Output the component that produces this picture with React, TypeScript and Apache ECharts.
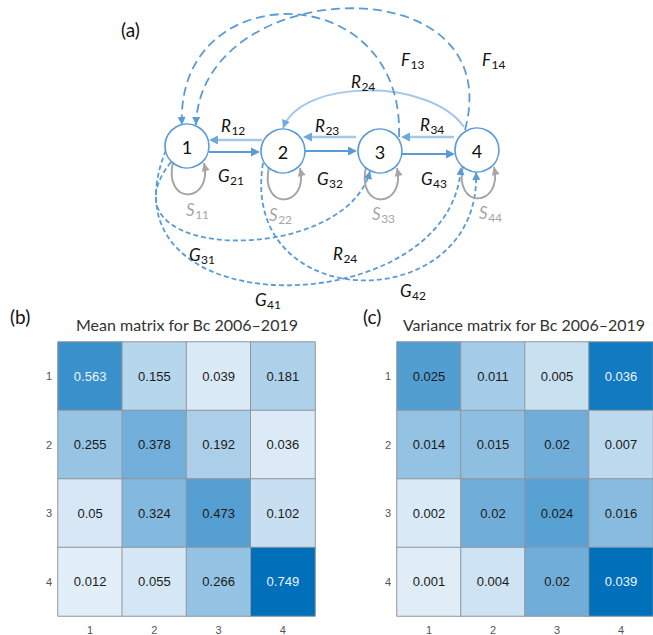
import React, { useEffect, useRef } from "react";
import * as echarts from "echarts";

// ---- matrix data ----
const matrixTicks = ["1", "2", "3", "4"];
const stateNames = ["1", "2", "3", "4"];
const meanTitle = "Mean matrix for Bc 2006–2019";
const varianceTitle = "Variance matrix for Bc 2006–2019";
const meanRow1 = [0.563, 0.155, 0.039, 0.181];
const meanRow2 = [0.255, 0.378, 0.192, 0.036];
const meanRow3 = [0.05, 0.324, 0.473, 0.102];
const meanRow4 = [0.012, 0.055, 0.266, 0.749];
const varRow1 = [0.025, 0.011, 0.005, 0.036];
const varRow2 = [0.014, 0.015, 0.02, 0.007];
const varRow3 = [0.002, 0.02, 0.024, 0.016];
const varRow4 = [0.001, 0.004, 0.02, 0.039];
const meanValues = [meanRow1, meanRow2, meanRow3, meanRow4];
const varianceValues = [varRow1, varRow2, varRow3, varRow4];

// ---- styling ----
const BLUE = "#5B9BD5";
const LIGHT_BLUE = "#A4C8E9";
const LIGHT_HEAD = "#6FA8DC";
const GREY = "#A6A6A6";
const FAMILY = "Lato, 'Open Sans', sans-serif";
const CELL_FONT = "'Liberation Sans', Arial, sans-serif";
const CELL_LOW = "#E6F0F9";
const CELL_HIGH = "#0070BB";

// transition diagram layout
const nodeCenters: [number, number][] = [
  [187, 146],
  [283, 151],
  [380, 151],
  [477, 150],
];
const NODE_R = 22;

type Pt = [number, number];

function arrowHead(tip: Pt, from: Pt, color: string, len = 8, half = 4) {
  const dx = tip[0] - from[0];
  const dy = tip[1] - from[1];
  const d = Math.hypot(dx, dy) || 1;
  const ux = dx / d;
  const uy = dy / d;
  const bx = tip[0] - ux * len;
  const by = tip[1] - uy * len;
  return {
    type: "polygon",
    silent: true,
    shape: {
      points: [
        [tip[0], tip[1]],
        [bx - uy * half, by + ux * half],
        [bx + uy * half, by - ux * half],
      ],
    },
    style: { fill: color },
  };
}

function buildDiagram(measure: (t: string, f: string) => number) {
  const lines: any[] = [];
  const heads: any[] = [];
  const texts: any[] = [];

  const straight = (a: Pt, b: Pt, color: string, width: number, headColor: string) => {
    const dx = b[0] - a[0];
    const dy = b[1] - a[1];
    const d = Math.hypot(dx, dy);
    lines.push({
      type: "line",
      silent: true,
      shape: { x1: a[0], y1: a[1], x2: b[0] - (dx / d) * 6, y2: b[1] - (dy / d) * 6 },
      style: { stroke: color, lineWidth: width },
    });
    heads.push(arrowHead(b, a, headColor, 9, 4.5));
  };

  const curve = (p0: Pt, c1: Pt, c2: Pt, p3: Pt, color: string, width: number, dash: number[] | null, headColor = color) => {
    lines.push({
      type: "bezierCurve",
      silent: true,
      shape: { x1: p0[0], y1: p0[1], cpx1: c1[0], cpy1: c1[1], cpx2: c2[0], cpy2: c2[1], x2: p3[0], y2: p3[1] },
      style: { stroke: color, lineWidth: width, fill: "none", lineDash: dash || undefined },
    });
    heads.push(arrowHead(p3, c2, headColor, 8, 4));
  };

  // forward growth arrows
  straight([209, 152], [260, 152], BLUE, 2.2, BLUE);
  straight([305, 151], [357, 151], BLUE, 2.2, BLUE);
  straight([402, 154], [455, 154], BLUE, 2.2, BLUE);
  // backward arrows
  straight([262, 140], [209, 140], LIGHT_BLUE, 2.6, LIGHT_HEAD);
  straight([356, 137], [303, 137], LIGHT_BLUE, 2.6, LIGHT_HEAD);
  straight([454, 137], [401, 137], LIGHT_BLUE, 2.6, LIGHT_HEAD);
  curve([464, 127], [430, 78], [302, 78], [283, 128], LIGHT_BLUE, 2, null, LIGHT_HEAD);

  // fecundity arcs back to state 1
  const longDash = [9, 5];
  curve([399, 137], [405, -25], [175, -25], [182, 125], BLUE, 1.8, longDash);
  curve([465, 130], [510, -38], [200, -25], [196, 125], BLUE, 1.8, longDash);

  // skipped-state growth arcs
  const shortDash = [5, 3];
  curve([171, 162], [92, 262], [345, 268], [370, 171], BLUE, 1.8, shortDash);
  curve([166, 150], [92, 330], [452, 325], [461, 167], BLUE, 1.8, shortDash);
  curve([263, 163], [238, 318], [482, 318], [476, 172], BLUE, 1.8, shortDash);

  // stasis loops
  nodeCenters.forEach(([cx, cy]) => {
    curve([cx - 14, cy + 16], [cx - 24, cy + 60], [cx + 26, cy + 58], [cx + 17, cy + 17], GREY, 2, null, GREY);
  });

  // state circles
  const circles = nodeCenters.map(([cx, cy], i) => ({
    type: "group",
    silent: true,
    children: [
      { type: "circle", shape: { cx, cy, r: NODE_R }, style: { fill: "#fff", stroke: BLUE, lineWidth: 1.6 } },
      {
        type: "text",
        style: {
          text: stateNames[i],
          x: cx,
          y: cy + 1,
          font: `18px ${FAMILY}`,
          fill: "#111",
          align: "center",
          verticalAlign: "middle",
        },
      },
    ],
  }));

  const symbol = (letter: string, sub: string, x: number, y: number, color = "#111") => {
    const mainFont = `italic 17px ${FAMILY}`;
    const w = measure(letter, mainFont);
    texts.push({
      type: "text",
      silent: true,
      style: { text: letter, x, y, font: mainFont, fill: color, align: "left", verticalAlign: "middle" },
    });
    texts.push({
      type: "text",
      silent: true,
      style: { text: sub, x: x + w + 0.5, y: y + 5, font: `12px ${FAMILY}`, fill: color, align: "left", verticalAlign: "middle" },
    });
  };

  symbol("R", "12", 221, 125);
  symbol("G", "21", 218, 175);
  symbol("R", "23", 315, 125);
  symbol("G", "32", 317, 178);
  symbol("R", "34", 420, 124);
  symbol("G", "43", 421, 178);
  symbol("R", "24", 351, 81);
  symbol("F", "13", 401, 59);
  symbol("F", "14", 482, 59);
  symbol("S", "11", 186, 209, GREY);
  symbol("S", "22", 269, 214, GREY);
  symbol("S", "33", 372, 213, GREY);
  symbol("S", "44", 479, 212, GREY);
  symbol("G", "31", 189, 254);
  symbol("R", "24", 333, 253);
  symbol("G", "41", 255, 299);
  symbol("G", "42", 400, 290);

  return [...lines, ...circles, ...heads, ...texts];
}

function heatData(values: number[][]) {
  const max = Math.max(...values.flat());
  return values.flatMap((row, r) =>
    row.map((v, c) => ({
      value: [c, r, v],
      label: { color: v / max > 0.7 ? "#EEF4FB" : "#1A1A1A" },
    }))
  );
}

export default function App() {
  const ref = useRef<HTMLDivElement>(null);

  useEffect(() => {
    if (!ref.current) return;
    const chart = echarts.init(ref.current, undefined, { renderer: "svg" });
    const ctx = document.createElement("canvas").getContext("2d")!;
    const measure = (t: string, f: string) => {
      ctx.font = f;
      return ctx.measureText(t).width;
    };

    const grids = [
      { left: 58, top: 342, width: 257, height: 275 },
      { left: 397, top: 342, width: 256, height: 275 },
    ];

    const axisLabel = { color: "#555", fontSize: 11, fontFamily: CELL_FONT };
    const xAxes = grids.map((_, i) => ({
      gridIndex: i,
      type: "category",
      data: matrixTicks,
      axisLine: { show: false },
      axisTick: { show: false },
      axisLabel: { ...axisLabel, margin: 8 },
      splitLine: { show: false },
    }));
    const yAxes = grids.map((_, i) => ({
      gridIndex: i,
      type: "category",
      data: matrixTicks,
      inverse: true,
      axisLine: { show: false },
      axisTick: { show: false },
      axisLabel: { ...axisLabel, margin: 6 },
      splitLine: { show: false },
    }));

    const cellSeries = (i: number, values: number[][]) => ({
      type: "heatmap",
      xAxisIndex: i,
      yAxisIndex: i,
      data: heatData(values),
      label: {
        show: true,
        fontSize: 13,
        fontFamily: CELL_FONT,
        formatter: (p: any) => String(p.value[2]),
      },
      itemStyle: { borderColor: "#8F969E", borderWidth: 1 },
      emphasis: { disabled: true },
    });

    const titleStyle = (text: string, x: number) => ({
      type: "text",
      silent: true,
      style: { text, x, y: 324, font: `16px ${FAMILY}`, fill: "#333", align: "center", verticalAlign: "middle" },
    });
    const panelTag = (text: string, x: number, y: number) => ({
      type: "text",
      silent: true,
      style: { text, x, y, font: `19px ${FAMILY}`, fill: "#111", align: "left", verticalAlign: "middle" },
    });

    chart.setOption({
      animation: false,
      backgroundColor: "#fff",
      grid: grids,
      xAxis: xAxes,
      yAxis: yAxes,
      visualMap: [
        {
          type: "continuous",
          show: false,
          seriesIndex: 0,
          dimension: 2,
          min: 0,
          max: Math.max(...meanValues.flat()),
          inRange: { color: [CELL_LOW, CELL_HIGH] },
        },
        {
          type: "continuous",
          show: false,
          seriesIndex: 1,
          dimension: 2,
          min: 0,
          max: Math.max(...varianceValues.flat()),
          inRange: { color: [CELL_LOW, CELL_HIGH] },
        },
      ],
      series: [cellSeries(0, meanValues), cellSeries(1, varianceValues)],
      graphic: [
        panelTag("(a)", 121, 29),
        panelTag("(b)", 10, 316),
        panelTag("(c)", 363, 316),
        titleStyle(meanTitle, 187),
        titleStyle(varianceTitle, 524),
        ...buildDiagram(measure),
      ],
    });

    return () => chart.dispose();
  }, []);

  return (
    <div
      ref={ref}
      style={{ position: "absolute", left: 0, top: 0, width: 653, height: 635, background: "#fff" }}
    />
  );
}
